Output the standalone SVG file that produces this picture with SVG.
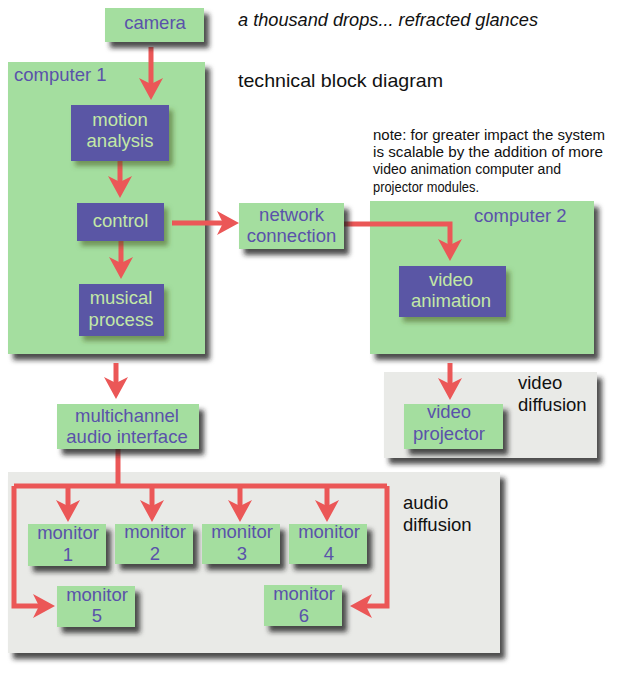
<svg xmlns="http://www.w3.org/2000/svg" width="619" height="683" viewBox="0 0 619 683">
<defs>
<filter id="sh" x="-20%" y="-20%" width="150%" height="160%">
<feDropShadow dx="5" dy="6" stdDeviation="2.5" flood-color="#222" flood-opacity="0.8"/>
</filter>
<filter id="shp" x="-20%" y="-20%" width="150%" height="160%">
<feDropShadow dx="4" dy="5" stdDeviation="2.5" flood-color="#4a5a20" flood-opacity="0.55"/>
</filter>
<marker id="ah" markerUnits="userSpaceOnUse" markerWidth="22" markerHeight="24" refX="6" refY="12" orient="auto" overflow="visible">
<path d="M0,0 L22,12 L0,24 L6,12 Z" fill="#eb5757"/>
</marker>
<style>
.g{fill:#a4de9f;filter:url(#sh)}
.p{fill:#5a56a5;filter:url(#shp)}
.gr{fill:#e9eae7;filter:url(#sh)}
.t{font-family:"Liberation Sans",Arial,sans-serif;font-size:18.5px;fill:#5a52aa;text-anchor:middle}
.tp{font-family:"Liberation Sans",Arial,sans-serif;font-size:18.5px;fill:#c3e8a6;text-anchor:middle}
.tl{font-family:"Liberation Sans",Arial,sans-serif;font-size:18.5px;fill:#5a52aa}
.k{font-family:"Liberation Sans",Arial,sans-serif;font-size:18.5px;fill:#111}
.n{font-family:"Liberation Sans",Arial,sans-serif;font-size:14px;fill:#111}
.c{fill:none;stroke:#eb5757;stroke-width:5}
.ca{fill:none;stroke:#eb5757;stroke-width:5;marker-end:url(#ah)}
</style>
</defs>
<rect width="619" height="683" fill="#fff"/>

<text class="k" x="238" y="26" font-style="italic" textLength="300" lengthAdjust="spacingAndGlyphs">a thousand drops... refracted glances</text>
<text class="k" x="238" y="87" textLength="205" lengthAdjust="spacingAndGlyphs">technical block diagram</text>
<g id="note">
<text class="n" x="373" y="140" textLength="232" lengthAdjust="spacingAndGlyphs">note: for greater impact the system</text>
<text class="n" x="373" y="157" textLength="230" lengthAdjust="spacingAndGlyphs">is scalable by the addition of more</text>
<text class="n" x="373" y="174" textLength="188" lengthAdjust="spacingAndGlyphs">video animation computer and</text>
<text class="n" x="373" y="192" textLength="106" lengthAdjust="spacingAndGlyphs">projector modules.</text>
</g>

<g id="computer1"><rect class="g" x="8" y="62" width="197" height="292"/><text class="tl" x="14" y="81">computer 1</text></g>
<g id="computer2"><rect class="g" x="370" y="201" width="224" height="153"/><text class="tl" x="474" y="222">computer 2</text></g>
<g id="videodiffusion"><rect class="gr" x="384" y="372" width="213" height="86"/><text class="k" x="518" y="389">video</text><text class="k" x="518" y="411">diffusion</text></g>
<g id="audiodiffusion"><rect class="gr" x="8" y="472" width="492" height="181"/><text class="k" x="403" y="509">audio</text><text class="k" x="403" y="531">diffusion</text></g>

<g id="connectors">
<path class="ca" d="M151,47 V84"/>
<path class="ca" d="M120,161 V182"/>
<path class="ca" d="M121,241 V263"/>
<path class="ca" d="M172,223 H223"/>
<path class="ca" d="M344,224 H450 V245"/>
<path class="ca" d="M450,363 V384"/>
<path class="ca" d="M116,363 V383"/>
<path class="c" d="M118,449 V486"/>
<path class="c" d="M14,486 H387"/>
<path class="ca" d="M68,486 V506"/>
<path class="ca" d="M152,486 V506"/>
<path class="ca" d="M240,486 V506"/>
<path class="ca" d="M327,486 V506"/>
<path class="ca" d="M14,486 V606 H39"/>
<path class="ca" d="M387,486 V606 H366"/>
</g>

<g id="camera"><rect class="g" x="105" y="8" width="99" height="34"/><text class="t" x="155" y="29">camera</text></g>
<g id="motion"><rect class="p" x="71" y="105" width="98" height="56"/><text class="tp" x="120" y="126">motion</text><text class="tp" x="120" y="147">analysis</text></g>
<g id="control"><rect class="p" x="77" y="203" width="87" height="38"/><text class="tp" x="120.5" y="227">control</text></g>
<g id="musical"><rect class="p" x="79" y="284" width="85" height="52"/><text class="tp" x="121" y="304">musical</text><text class="tp" x="121" y="326">process</text></g>
<g id="network"><rect class="g" x="239" y="203" width="105" height="46"/><text class="t" x="291.5" y="221">network</text><text class="t" x="291.5" y="242">connection</text></g>
<g id="videoanimation"><rect class="p" x="399" y="266" width="107" height="51"/><text class="tp" x="451" y="286">video</text><text class="tp" x="451" y="307">animation</text></g>
<g id="projector"><rect class="g" x="404" y="404" width="99" height="45"/><text class="t" x="449" y="418">video</text><text class="t" x="449" y="440">projector</text></g>
<g id="multichannel"><rect class="g" x="57" y="404" width="142" height="45"/><text class="t" x="127" y="422">multichannel</text><text class="t" x="127" y="443">audio interface</text></g>
<g id="monitor1"><rect class="g" x="28" y="524" width="78" height="42"/><text class="t" x="68" y="539">monitor</text><text class="t" x="68" y="561">1</text></g>
<g id="monitor2"><rect class="g" x="115" y="524" width="78" height="40"/><text class="t" x="155" y="538">monitor</text><text class="t" x="155" y="560">2</text></g>
<g id="monitor3"><rect class="g" x="202" y="524" width="78" height="40"/><text class="t" x="242" y="538">monitor</text><text class="t" x="242" y="560">3</text></g>
<g id="monitor4"><rect class="g" x="289" y="524" width="78" height="40"/><text class="t" x="329" y="538">monitor</text><text class="t" x="329" y="560">4</text></g>
<g id="monitor5"><rect class="g" x="57" y="586" width="78" height="41"/><text class="t" x="97" y="601">monitor</text><text class="t" x="97" y="622">5</text></g>
<g id="monitor6"><rect class="g" x="264" y="585" width="78" height="41"/><text class="t" x="304" y="600">monitor</text><text class="t" x="304" y="622">6</text></g>
</svg>
